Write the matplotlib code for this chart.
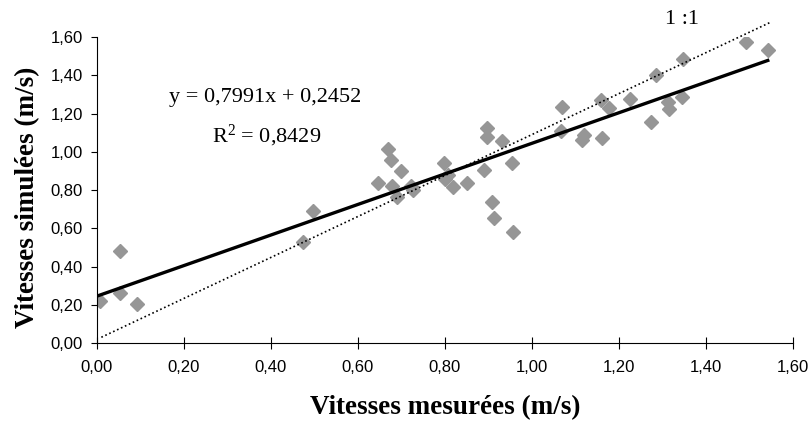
import numpy as np
import matplotlib.pyplot as plt

plt.rcParams['mathtext.fontset'] = 'custom'
plt.rcParams['mathtext.rm'] = 'Liberation Serif'
plt.rcParams['mathtext.it'] = 'Liberation Serif:italic'

mesurees = [0.007, 0.054, 0.053, 0.091, 0.474, 0.496, 0.647, 0.670, 0.677, 0.679,
            0.689, 0.699, 0.722, 0.727, 0.798, 0.807, 0.801, 0.819, 0.850, 0.890,
            0.897, 0.897, 0.930, 0.953, 0.907, 0.912, 0.956, 1.070, 1.067, 1.116,
            1.120, 1.162, 1.158, 1.178, 1.225, 1.273, 1.284, 1.312, 1.316, 1.344,
            1.346, 1.493, 1.542]
simulees = [0.220, 0.483, 0.260, 0.204, 0.530, 0.690, 0.838, 1.016, 0.955, 0.823,
            0.764, 0.898, 0.820, 0.800, 0.940, 0.878, 0.856, 0.814, 0.838, 0.905,
            1.122, 1.079, 1.056, 0.940, 0.739, 0.655, 0.579, 1.232, 1.108, 1.061,
            1.088, 1.074, 1.271, 1.227, 1.274, 1.157, 1.401, 1.262, 1.222, 1.288,
            1.485, 1.575, 1.532]

# trend line y = 0.7991x + 0.2452
slope = 0.7991
intercept = 0.2452
trend_x = [0.0, 1.542]

# hand drawn 1:1 line
one_x = [0.01, 1.551]
one_y = [0.03, 1.68]

ticks = [0.0, 0.2, 0.4, 0.6, 0.8, 1.0, 1.2, 1.4, 1.6]
tick_labels = ['0,00', '0,20', '0,40', '0,60', '0,80', '1,00', '1,20', '1,40', '1,60']

fig = plt.figure(figsize=(8.11, 4.22), dpi=100)
ax = fig.add_axes([0.1196, 0.1872, 0.8582, 0.7251])

ax.plot(mesurees, simulees, linestyle='none', marker='D', markersize=7,
        color='#969696', zorder=2)
tx = np.array(trend_x)
ax.plot(tx, slope * tx + intercept, color='black', linewidth=2.4, zorder=3)
ax.plot(one_x, one_y, color='black', linestyle=(0, (1, 1.6)), linewidth=1.2,
        zorder=3, clip_on=False)

ax.set_xlim(0, 1.6)
ax.set_ylim(0, 1.6)
ax.set_xticks(ticks)
ax.set_xticklabels(tick_labels)
ax.set_yticks(ticks)
ax.set_yticklabels(tick_labels)
for s in ['top', 'right']:
    ax.spines[s].set_visible(False)
ax.tick_params(axis='x', direction='inout', length=9, pad=8, labelsize=12)
ax.tick_params(axis='y', direction='out', length=4, pad=6, labelsize=12)
for lab in ax.get_xticklabels() + ax.get_yticklabels():
    lab.set_family('Liberation Sans')

serif = 'Liberation Serif'
ax.set_xlabel('Vitesses mesurées (m/s)', family=serif, fontweight='bold', fontsize=19.5)
ax.xaxis.set_label_coords(0.5, -0.212)
ax.xaxis.label.set_verticalalignment('center')
ax.set_ylabel('Vitesses simulées (m/s)', family=serif, fontweight='bold', fontsize=19.5)
ax.yaxis.set_label_coords(-0.099, 0.477)
ax.yaxis.label.set_verticalalignment('center')

ax.text(0.386, 1.286, 'y = 0,7991x + 0,2452', family=serif, fontsize=16,
        ha='center', va='center')
ax.text(0.39, 1.082, 'R$^{2}$ = 0,8429', family=serif, fontsize=16,
        ha='center', va='center')
ax.text(1.344, 1.69, '1 :1', family=serif, fontsize=16, ha='center', va='center')

fig.savefig('out.png', dpi=100)
